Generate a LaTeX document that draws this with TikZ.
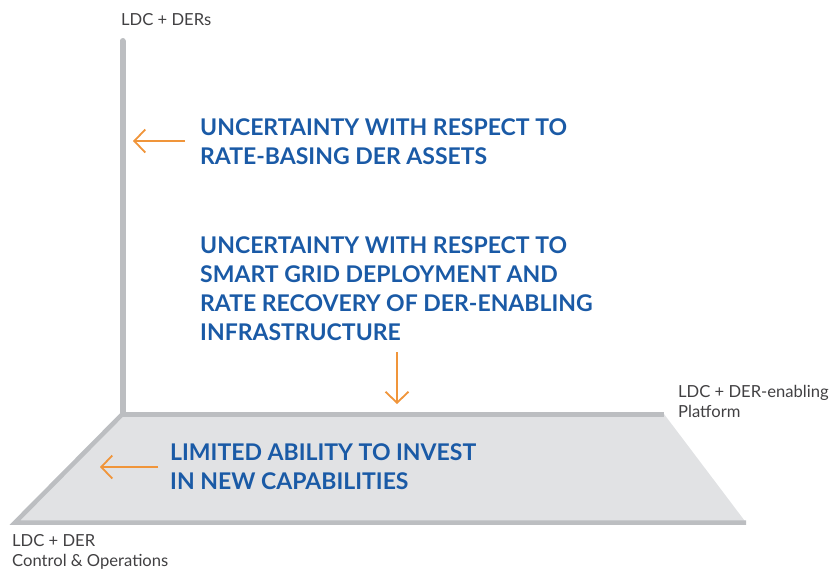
\documentclass[tikz,border=0pt]{standalone}
\usepackage{fontspec}
\setmainfont{Lato}
\usetikzlibrary{arrows.meta}
\definecolor{axisgray}{HTML}{BCBEC1}
\definecolor{planefill}{HTML}{E1E2E4}
\definecolor{txtgray}{HTML}{414042}
\definecolor{headblue}{HTML}{1A5AA6}
\definecolor{arrorange}{HTML}{F0953A}
\tikzset{
  bluetxt/.style={font=\fontsize{23}{29}\selectfont\bfseries, text=headblue, align=left, inner sep=0pt, anchor=north west},
  graytxt/.style={font=\fontsize{16.6}{20}\selectfont, text=txtgray, align=left, inner sep=0pt, anchor=north west},
  axisline/.style={draw=axisgray, line width=6pt},
  orangearrow/.style={draw=arrorange, line width=1.8pt, -{Straight Barb[length=11pt,width=23pt,line width=1.8pt]}},
}
\begin{document}
\begin{tikzpicture}[x=1pt,y=-1pt]
\useasboundingbox (0,0) rectangle (833,571);
% plane
\coordinate (p1) at (122.5,414);
\coordinate (p2) at (664,414);
\coordinate (p3) at (746,522.5);
\coordinate (p4) at (15,522.5);
\fill[planefill] (p1) -- (p2) -- (p3) -- (p4) -- cycle;
\draw[draw=axisgray, line width=4.5pt, line join=miter] (p3) -- (p4) -- (p1);
% axes
\coordinate (top) at (122.5,41);
\draw[axisline, line cap=round] (top) -- (122.5,412);
\draw[axisline, line width=5pt] (p1) -- (p2);
% labels
\node[graytxt] (lz) at (121,13) {LDC + DERs};
\node[graytxt] (lx) at (678,385) {LDC + DER-enabling\\Platform};
\node[graytxt] (ly) at (12,534) {LDC + DER\\Control \& Operations};
% texts
\node[bluetxt] (t1) at (200,118) {UNCERTAINTY WITH RESPECT TO\\RATE-BASING DER ASSETS};
\node[bluetxt] (t2) at (200,236) {UNCERTAINTY WITH RESPECT TO\\SMART GRID DEPLOYMENT AND\\RATE RECOVERY OF DER-ENABLING\\INFRASTRUCTURE};
\node[bluetxt] (t3) at (170,443) {LIMITED ABILITY TO INVEST\\IN NEW CAPABILITIES};
% arrows
\coordinate (a1s) at (185,141);
\coordinate (a1e) at (133,141);
\coordinate (a2s) at (397,352);
\coordinate (a2e) at (397,404);
\coordinate (a3s) at (158,467);
\coordinate (a3e) at (100,467);
\draw[orangearrow] (a1s) -- (a1e);
\draw[orangearrow] (a2s) -- (a2e);
\draw[orangearrow] (a3s) -- (a3e);
\end{tikzpicture}
\end{document}
